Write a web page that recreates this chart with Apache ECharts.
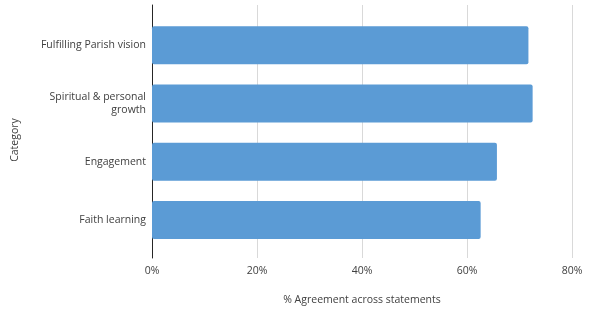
<!DOCTYPE html>
<html><head><meta charset="utf-8">
<script src="https://cdn.jsdelivr.net/npm/echarts@6/dist/echarts.min.js"></script>
<style>html,body{margin:0;padding:0;background:#fff}#c{width:589px;height:317px}</style>
</head><body><div id="c"></div>
<script>
const categories = ["Fulfilling Parish vision", "Spiritual & personal\ngrowth", "Engagement", "Faith learning"];
const values = [71.7, 72.5, 65.7, 62.6];
const xTicks = [0, 20, 40, 60, 80];
const xAxisTitle = "% Agreement across statements";
const yAxisTitle = "Category";

const font = "'Open Sans', 'Segoe UI', sans-serif";
const txt = '#404040';
const fs = 10.5;
const chart = echarts.init(document.getElementById('c'), null, {renderer: 'canvas'});
chart.setOption({
  animation: false,
  grid: [
    {left: 152, right: 17, top: 5, bottom: 59},
    {left: 152, right: 17, top: 16, height: 233}
  ],
  xAxis: [
    {gridIndex: 0, type: 'value', min: xTicks[0], max: xTicks[xTicks.length-1], interval: 20,
     axisLine: {show: false}, axisTick: {show: false},
     axisLabel: {formatter: '{value}%', color: txt, fontFamily: font, fontSize: fs, margin: 8},
     splitLine: {lineStyle: {color: '#d9d9d9', width: 1}},
     name: xAxisTitle, nameLocation: 'middle', nameGap: 37,
     nameTextStyle: {color: txt, fontFamily: font, fontSize: fs}},
    {gridIndex: 1, type: 'value', min: 0, max: 80, show: false}
  ],
  yAxis: [
    {gridIndex: 0, type: 'value', min: 0, max: 1,
     axisLine: {show: true, onZero: false, lineStyle: {color: '#262626', width: 1}},
     axisTick: {show: false}, axisLabel: {show: false}, splitLine: {show: false}},
    {gridIndex: 1, type: 'category', data: categories, inverse: true,
     axisLine: {show: false}, axisTick: {show: false}, splitLine: {show: false},
     axisLabel: {color: txt, fontFamily: font, fontSize: fs, margin: 6, lineHeight: 13, align: 'right'}}
  ],
  graphic: [{
    type: 'text', x: 15, y: 140, rotation: Math.PI/2,
    style: {text: yAxisTitle, fill: txt, font: fs + "px " + font, align: 'center', verticalAlign: 'middle'}
  }],
  series: [{
    type: 'bar', xAxisIndex: 1, yAxisIndex: 1, data: values, barWidth: 38,
    itemStyle: {color: '#5b9bd5', borderRadius: 2}
  }]
});
</script></body></html>
